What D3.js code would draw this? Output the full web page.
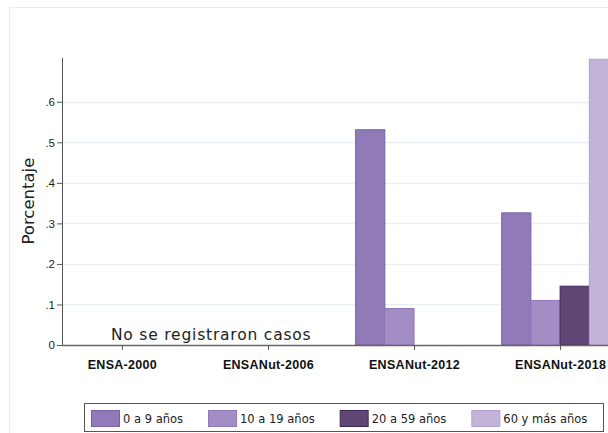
<!DOCTYPE html>
<html>
<head>
<meta charset="utf-8">
<script src="https://cdn.jsdelivr.net/npm/d3@7"></script>
<style>
  body { margin: 0; background: #fff; }
  svg { font-family: "DejaVu Sans", sans-serif; }
</style>
</head>
<body>
<div id="chart"></div>
<script>
var SURVEYS = ['ENSA-2000', 'ENSANut-2006', 'ENSANut-2012', 'ENSANut-2018'];
var GROUPS = ['0 a 9 años', '10 a 19 años', '20 a 59 años', '60 y más años'];

// one array per age group, in survey order (null = no cases)
var V_0_9 = [null, null, 0.531, 0.326];
var V_10_19 = [null, null, 0.090, 0.110];
var V_20_59 = [null, null, null, 0.145];
var V_60 = [null, null, null, 0.705];

var Y_TICKS = [0, 0.1, 0.2, 0.3, 0.4, 0.5, 0.6];
var NOTE = 'No se registraron casos';

var FILLS = ['#917ab8', '#a28ec4', '#5f4674', '#c3b3d9'];
var STROKES = ['#7a60aa', '#8f78b8', '#3e2857', '#b3a1cf'];

var W = 608, H = 433;
var margin = {left: 62, top: 58, bottom: 345};

var series = [V_0_9, V_10_19, V_20_59, V_60];
var data = [];
GROUPS.forEach(function (g, gi) {
  SURVEYS.forEach(function (s, si) {
    if (series[gi][si] != null) data.push({survey: s, group: g, value: series[gi][si]});
  });
});

var svg = d3.select('#chart').append('svg')
  .attr('width', W)
  .attr('height', H);

// faint outer frame
svg.append('rect')
  .attr('x', 9.5).attr('y', 7.5)
  .attr('width', 640).attr('height', 460)
  .attr('fill', 'none')
  .attr('stroke', '#ececec');

var x = d3.scalePoint().domain(SURVEYS).range([margin.left, 620]).padding(0.41);
var xSub = d3.scaleBand().domain(GROUPS).range([-x.step() * 0.4, x.step() * 0.4]);
var y = d3.scaleLinear().domain([0, 0.708]).range([margin.bottom, margin.top]);

// gridlines
svg.append('g')
  .selectAll('line')
  .data(Y_TICKS.filter(function (d) { return d > 0; }))
  .enter().append('line')
  .attr('x1', margin.left).attr('x2', W)
  .attr('y1', function (d) { return Math.round(y(d)) + 0.5; })
  .attr('y2', function (d) { return Math.round(y(d)) + 0.5; })
  .attr('stroke', '#e9eff2')
  .attr('stroke-width', 1.5);

// bars
svg.append('g')
  .selectAll('rect')
  .data(data)
  .enter().append('rect')
  .attr('x', function (d) { return x(d.survey) + xSub(d.group); })
  .attr('y', function (d) { return y(d.value); })
  .attr('width', xSub.bandwidth())
  .attr('height', function (d) { return y(0) - y(d.value); })
  .attr('fill', function (d) { return FILLS[GROUPS.indexOf(d.group)]; })
  .attr('stroke', function (d) { return STROKES[GROUPS.indexOf(d.group)]; })
  .attr('stroke-width', 1);

// Y axis
var yAxis = svg.append('g')
  .attr('transform', 'translate(' + margin.left + ',0)')
  .call(d3.axisLeft(y).tickValues(Y_TICKS).tickSize(5).tickPadding(2)
    .tickFormat(function (d) { return d === 0 ? '0' : d3.format('.1f')(d).replace(/^0/, ''); }));
yAxis.select('.domain').attr('d', 'M0.5,' + margin.top + 'V' + (margin.bottom + 0.5)).attr('stroke', '#555');
yAxis.selectAll('.tick line').attr('stroke', '#555');
yAxis.selectAll('text').attr('font-size', 11.5).attr('fill', '#222');

// X axis
var xAxis = svg.append('g')
  .attr('transform', 'translate(0,' + margin.bottom + ')')
  .call(d3.axisBottom(x).tickSize(5).tickPadding(10));
xAxis.select('.domain').attr('d', 'M' + margin.left + ',0.5H' + (W + 20)).attr('stroke', '#666').attr('stroke-width', 1.5);
xAxis.selectAll('.tick line').attr('stroke', '#555');
xAxis.selectAll('text')
  .attr('font-size', 12.5)
  .attr('font-weight', 'bold')
  .attr('letter-spacing', 0.3)
  .attr('fill', '#111');

// Y label
svg.append('text')
  .attr('transform', 'translate(34,' + y(0.355) + ') rotate(-90)')
  .attr('text-anchor', 'middle')
  .attr('font-size', 16.5)
  .attr('fill', '#222')
  .text('Porcentaje');

// note
svg.append('text')
  .attr('x', x(SURVEYS[0]) - 11)
  .attr('y', y(0) - 5)
  .attr('font-size', 15.5)
  .attr('letter-spacing', 0.8)
  .attr('fill', '#222')
  .text(NOTE);

// legend
var legend = svg.append('g');
legend.append('rect')
  .attr('x', 84.5).attr('y', 403.5)
  .attr('width', 519).attr('height', 28)
  .attr('fill', '#fff')
  .attr('stroke', '#555');

var lx = 91;
GROUPS.forEach(function (g, i) {
  legend.append('rect')
    .attr('x', lx + 0.5).attr('y', 410.5)
    .attr('width', 28).attr('height', 16)
    .attr('fill', FILLS[i])
    .attr('stroke', STROKES[i]);
  var t = legend.append('text')
    .attr('x', lx + 32)
    .attr('y', 422.5)
    .attr('font-size', 11.5)
    .attr('fill', '#222')
    .text(g);
  lx += 32 + t.node().getComputedTextLength() + 25;
});
</script>
</body>
</html>
